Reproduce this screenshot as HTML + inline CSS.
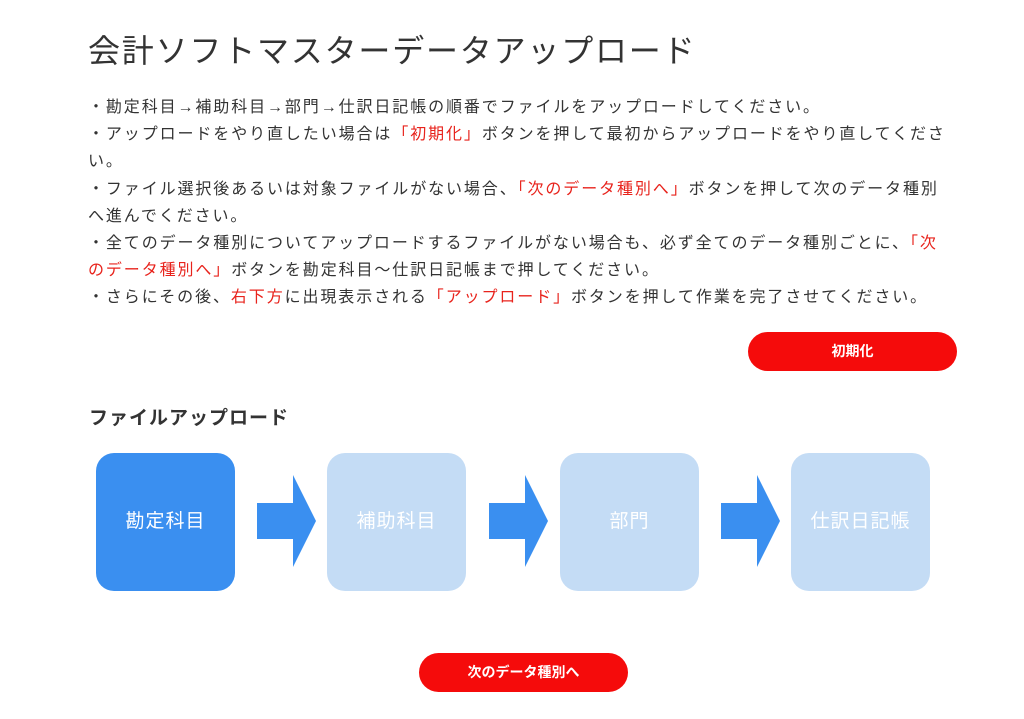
<!DOCTYPE html>
<html><head><meta charset="utf-8"><style>
body{margin:0;width:1024px;height:719px;background:#fff;font-family:"Liberation Sans","Noto Sans CJK JP",sans-serif;color:#333;position:relative;overflow:hidden}
.t{position:absolute;left:88px;top:26px;font-size:32px;color:#333;white-space:nowrap;letter-spacing:1.8px}
.p{position:absolute;left:88px;top:94px;font-size:16px;line-height:27.2px;letter-spacing:1.9px;white-space:nowrap;color:#333}
.r{color:#e8231c}
.btn{position:absolute;background:#f50b0b;color:#fff;border-radius:20px;font-size:14px;font-weight:bold;text-align:center;line-height:39px;height:39px;width:209px}
.h{position:absolute;left:89px;top:403px;font-size:19px;font-weight:bold;color:#333;letter-spacing:1px}
.box{position:absolute;top:453px;width:139px;height:138px;border-radius:18px;background:#c4dcf5;color:#fff;font-size:19px;text-align:center;line-height:138px;letter-spacing:1px}
svg{position:absolute;top:475px}
</style></head><body>
<div class="t">会計ソフトマスターデータアップロード</div>
<div class="p">・勘定科目→補助科目→部門→仕訳日記帳の順番でファイルをアップロードしてください。<br>・アップロードをやり直したい場合は<span class="r">「初期化」</span>ボタンを押して最初からアップロードをやり直してくださ<br>い。<br>・ファイル選択後あるいは対象ファイルがない場合、<span class="r">「次のデータ種別へ」</span>ボタンを押して次のデータ種別<br>へ進んでください。<br>・全てのデータ種別についてアップロードするファイルがない場合も、必ず全てのデータ種別ごとに、<span class="r">「次<br>のデータ種別へ」</span>ボタンを勘定科目～仕訳日記帳まで押してください。<br>・さらにその後、<span class="r">右下方</span>に出現表示される<span class="r">「アップロード」</span>ボタンを押して作業を完了させてください。</div>
<div class="btn" style="left:748px;top:332px">初期化</div>
<div class="h">ファイルアップロード</div>
<div class="box" style="left:96px;background:#3a8ff0">勘定科目</div>
<div class="box" style="left:327px">補助科目</div>
<div class="box" style="left:560px">部門</div>
<div class="box" style="left:791px">仕訳日記帳</div>
<svg style="left:257px" width="60" height="93"><polygon points="0,28 36,28 36,0 59,46 36,92 36,64 0,64" fill="#3a8ff0"/></svg>
<svg style="left:489px" width="60" height="93"><polygon points="0,28 36,28 36,0 59,46 36,92 36,64 0,64" fill="#3a8ff0"/></svg>
<svg style="left:721px" width="60" height="93"><polygon points="0,28 36,28 36,0 59,46 36,92 36,64 0,64" fill="#3a8ff0"/></svg>
<div class="btn" style="left:419px;top:653px">次のデータ種別へ</div>
</body></html>
